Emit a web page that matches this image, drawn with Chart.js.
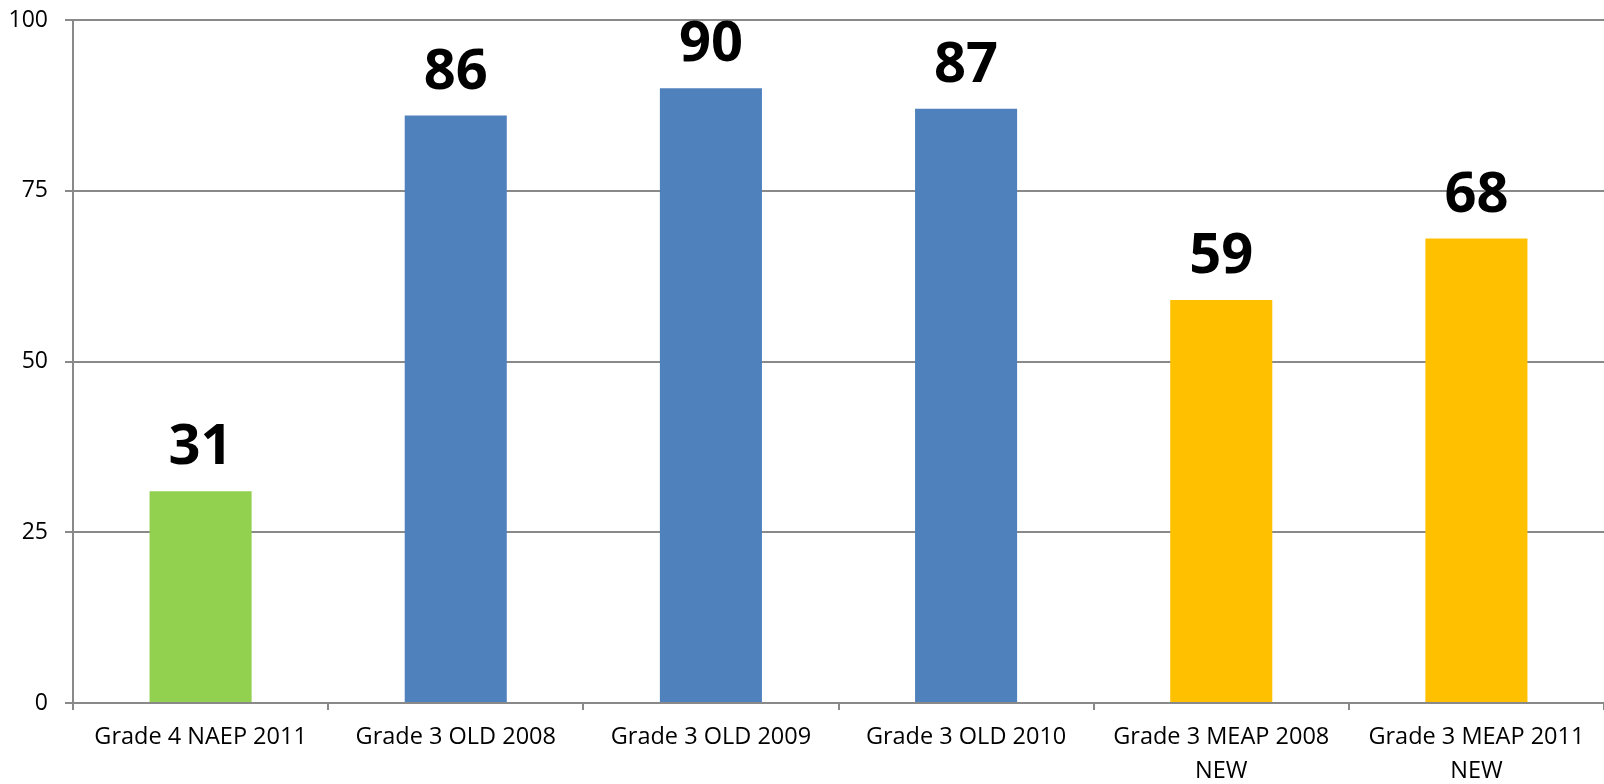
<!DOCTYPE html>
<html>
<head>
<meta charset="utf-8">
<script src="https://cdn.jsdelivr.net/npm/chart.js@4/dist/chart.umd.min.js"></script>
<style>
  html, body { margin: 0; padding: 0; background: #fff; }
  #wrap { width: 1604px; height: 784px; }
</style>
</head>
<body>
<div id="wrap"><canvas id="myChart" width="1604" height="784"></canvas></div>
<script>
// chart data
const categories = [
  'Grade 4 NAEP 2011',
  'Grade 3 OLD 2008',
  'Grade 3 OLD 2009',
  'Grade 3 OLD 2010',
  ['Grade 3 MEAP 2008', 'NEW'],
  ['Grade 3 MEAP 2011', 'NEW'],
];
const scores = [31, 86, 90, 87, 59, 68];
const barColors = ['#92D050', '#4F81BD', '#4F81BD', '#4F81BD', '#FFC000', '#FFC000'];
const yTicks = [0, 25, 50, 75, 100];

const fontFamily = "'Open Sans', 'Liberation Sans', sans-serif";

// draws the big bold numbers above each bar
const valueLabels = {
  id: 'valueLabels',
  afterDatasetsDraw(chart) {
    const ctx = chart.ctx;
    const meta = chart.getDatasetMeta(0);
    ctx.save();
    ctx.font = `bold 56px ${fontFamily}`;
    ctx.fillStyle = '#000';
    ctx.textAlign = 'center';
    ctx.textBaseline = 'alphabetic';
    meta.data.forEach((bar, i) => {
      ctx.fillText(String(scores[i]), bar.x, bar.y - 27);
    });
    ctx.restore();
  },
};

const config = {
  type: 'bar',
  data: {
    labels: categories,
    datasets: [
      {
        data: scores,
        backgroundColor: barColors,
        borderWidth: 0,
        barPercentage: 0.4,
        categoryPercentage: 1,
      },
    ],
  },
  options: {
    responsive: false,
    animation: false,
    devicePixelRatio: 1,
    layout: {
      padding: { top: 20, right: 0, left: 0, bottom: 0 },
    },
    plugins: {
      legend: { display: false },
      title: { display: false },
      tooltip: { enabled: false },
    },
    scales: {
      x: {
        offset: true,
        grid: {
          offset: true,
          drawOnChartArea: false,
          drawTicks: true,
          tickLength: 7,
          color: '#898989',
          lineWidth: 2,
        },
        border: { display: true, color: '#898989', width: 2 },
        ticks: {
          color: '#000',
          autoSkip: false,
          maxRotation: 0,
          minRotation: 0,
          padding: 10,
          font: { family: fontFamily, size: 23.5, lineHeight: 1.45 },
        },
        afterFit(scale) {
          scale.height = 81;
          scale.paddingLeft = 0;
          scale.paddingRight = 0;
        },
      },
      y: {
        min: 0,
        max: 100,
        afterBuildTicks(scale) {
          scale.ticks = yTicks.map((v) => ({ value: v }));
        },
        grid: {
          color: '#898989',
          lineWidth: 2,
          tickLength: 8,
        },
        border: { display: true, color: '#898989', width: 2 },
        ticks: {
          color: '#000',
          padding: 17,
          font: { family: fontFamily, size: 23 },
        },
        afterFit(scale) {
          scale.width = 73;
          scale.paddingTop = 0;
          scale.paddingBottom = 0;
        },
      },
    },
  },
  plugins: [valueLabels],
};

const ctxChart = document.getElementById('myChart');
try {
  const scoreChart = new Chart(ctxChart, config);
} catch (e) {
  console.log(e);
}
</script>
</body>
</html>
